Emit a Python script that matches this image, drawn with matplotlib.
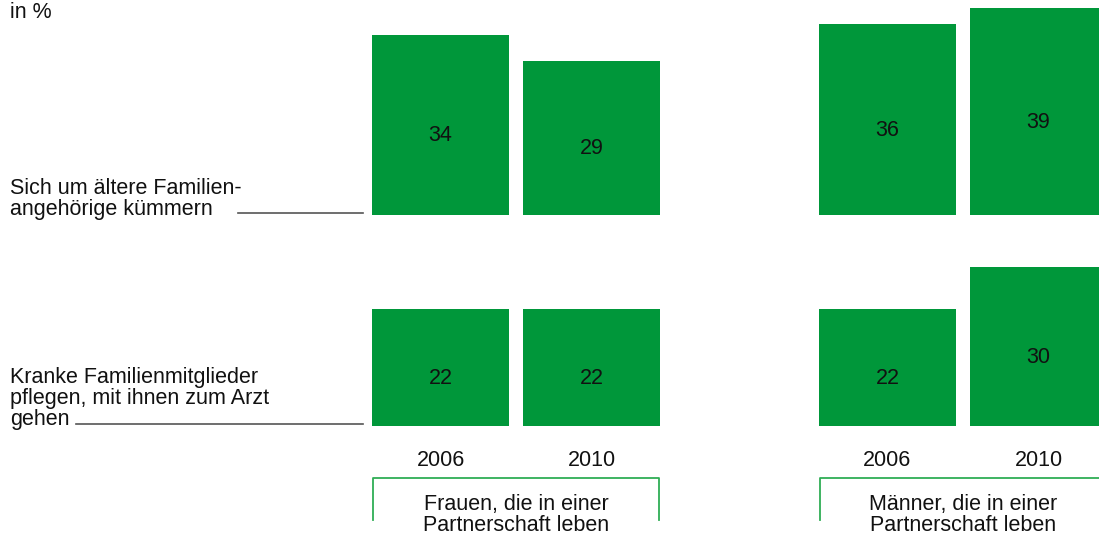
import matplotlib.pyplot as plt

# datos (en %)
jahre = ["2006", "2010"]
gruppen = ["Frauen, die in einer\nPartnerschaft leben", "Männer, die in einer\nPartnerschaft leben"]
zeilen = ["Sich um ältere Familien-\nangehörige kümmern",
          "Kranke Familienmitglieder\npflegen, mit ihnen zum Arzt\ngehen"]
aeltere = [34, 29, 36, 39]      # Frauen 2006, 2010, Männer 2006, 2010
kranke = [22, 22, 22, 30]

W, H = 1099, 534
GRUEN = "#00973a"
LINIE = "#2fae55"
TXT = "#111111"
FS = 15.5
plt.rcParams["font.family"] = ["Liberation Sans", "DejaVu Sans"]

fig = plt.figure(figsize=(W / 100, H / 100), dpi=100)

# layout en pixeles
grupo_x0 = [372, 819]
bar_w = 137
gap = 14
px_pro_prozent = 5.3
basis = [215, 426]          # línea base de cada fila (px desde arriba)
ylim = [40, 34]

xs = []
for g in grupo_x0:
    xs += [g + bar_w / 2, g + bar_w + gap + bar_w / 2]

for fila, werte in enumerate([aeltere, kranke]):
    hoehe = ylim[fila] * px_pro_prozent
    ax = fig.add_axes([0, 1 - basis[fila] / H, 1, hoehe / H])
    ax.set_xlim(0, W)
    ax.set_ylim(0, ylim[fila])
    ax.axis("off")
    ax.patch.set_alpha(0)
    ax.bar(xs, werte, width=bar_w, color=GRUEN, clip_on=False)
    for x, v in zip(xs, werte):
        ax.text(x, v / 2 - 2.0, str(v), ha="center", va="center", fontsize=FS, color=TXT)

# capa para textos y líneas
ov = fig.add_axes([0, 0, 1, 1])
ov.set_xlim(0, W)
ov.set_ylim(H, 0)
ov.axis("off")
ov.patch.set_alpha(0)

ov.text(10, 18, "in %", fontsize=FS, va="baseline", color=TXT)

# etiquetas de fila
ov.text(10, 215, zeilen[0], fontsize=FS, va="baseline", linespacing=1.0, color=TXT)
ov.plot([238, 363], [213, 213], color="#555555", lw=1.2)
ov.text(10, 425, zeilen[1], fontsize=FS, va="baseline", linespacing=1.0, color=TXT)
ov.plot([76, 363], [424, 424], color="#555555", lw=1.2)

# años
for x, j in zip(xs, jahre * 2):
    ov.text(x, 466, j, ha="center", va="baseline", fontsize=FS, color=TXT)

# grupos con corchete
for g, name in zip(grupo_x0, gruppen):
    x1 = g + 2 * bar_w + gap
    ov.plot([g + 1, g + 1, x1 - 1, x1 - 1], [520, 478, 478, 520], color=LINIE, lw=1.3)
    ov.text((g + x1) / 2, 531, name, ha="center", va="baseline", fontsize=FS,
            linespacing=1.0, color=TXT)

fig.savefig("out.png", dpi=100)
